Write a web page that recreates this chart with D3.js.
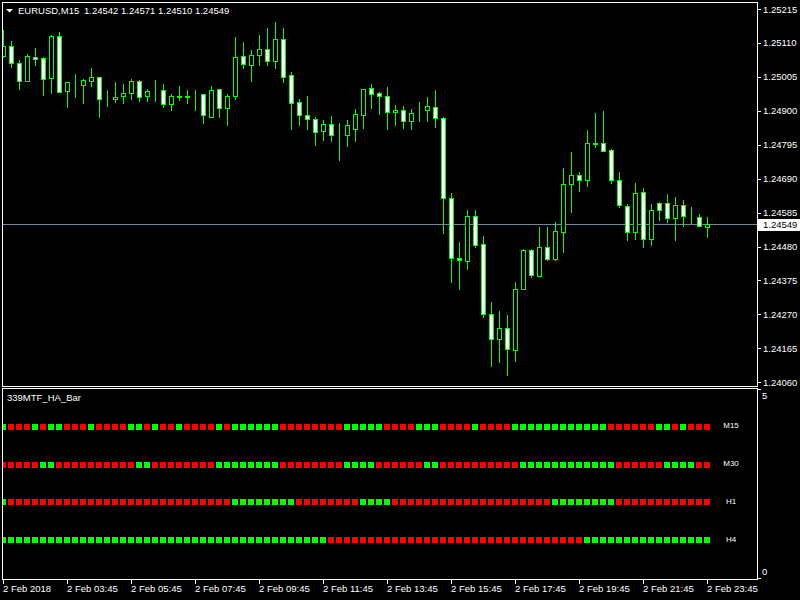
<!DOCTYPE html>
<html><head><meta charset="utf-8">
<script src="https://cdn.jsdelivr.net/npm/d3@7"></script>
<style>
html,body{margin:0;padding:0;background:#000;}
svg{display:block;}
text{font-family:"Liberation Sans",Arial,sans-serif;}
</style></head><body>
<svg id="c" width="800" height="600"></svg>
<script>
const symbol = "EURUSD,M15";
const indicatorName = "339MTF_HA_Bar";
const timeLabels = ["2 Feb 2018","2 Feb 03:45","2 Feb 05:45","2 Feb 07:45","2 Feb 09:45","2 Feb 11:45","2 Feb 13:45","2 Feb 15:45","2 Feb 17:45","2 Feb 19:45","2 Feb 21:45","2 Feb 23:45"];
const timeLabelBars = [0,8,16,24,32,40,48,56,64,72,80,88];
const priceTicks = [1.25215,1.25110,1.25005,1.24900,1.24795,1.24690,1.24585,1.24480,1.24375,1.24270,1.24165,1.24060];

const open = [1.25070,1.25101,1.25049,1.24993,1.25066,1.25063,1.25002,1.25131,1.24962,1.24984,
1.24979,1.24993,1.25004,1.24937,1.24936,1.24945,1.24954,1.24991,1.24945,1.24961,
1.24963,1.24920,1.24945,1.24944,1.24949,1.24951,1.24882,1.24967,1.24908,1.24945,
1.25069,1.25041,1.25072,1.25090,1.25055,1.25121,1.25010,1.24927,1.24886,1.24876,
1.24837,1.24859,1.24826,1.24826,1.24845,1.24888,1.24970,1.24954,1.24945,1.24895,
1.24902,1.24868,1.24892,1.24902,1.24911,1.24877,1.24629,1.24444,1.24435,1.24574,
1.24487,1.24270,1.24193,1.24227,1.24159,1.24350,1.24468,1.24390,1.24478,1.24441,
1.24524,1.24673,1.24700,1.24685,1.24799,1.24800,1.24778,1.24685,1.24605,1.24524,
1.24648,1.24502,1.24614,1.24614,1.24567,1.24608,1.24574,1.24571,1.24542];
const high = [1.25150,1.25117,1.25057,1.25076,1.25094,1.25067,1.25135,1.25144,1.24989,1.25014,
1.24998,1.25033,1.25005,1.24964,1.24989,1.24983,1.24998,1.24995,1.24967,1.24995,
1.24983,1.24951,1.24976,1.24964,1.24964,1.24951,1.24977,1.24967,1.24951,1.25128,
1.25113,1.25087,1.25135,1.25156,1.25175,1.25156,1.25020,1.24937,1.24946,1.24882,
1.24872,1.24884,1.24863,1.24872,1.24907,1.24967,1.24983,1.24957,1.24973,1.24917,
1.24914,1.24905,1.24926,1.24942,1.24963,1.24880,1.24645,1.24494,1.24593,1.24593,
1.24513,1.24309,1.24281,1.24268,1.24370,1.24473,1.24473,1.24541,1.24540,1.24556,
1.24723,1.24773,1.24711,1.24841,1.24892,1.24899,1.24781,1.24711,1.24611,1.24676,
1.24660,1.24611,1.24617,1.24642,1.24632,1.24623,1.24601,1.24580,1.24571];
const low = [1.25067,1.25037,1.24968,1.24993,1.25042,1.24949,1.24956,1.24959,1.24913,1.24944,
1.24925,1.24977,1.24882,1.24915,1.24928,1.24923,1.24937,1.24931,1.24931,1.24929,
1.24913,1.24902,1.24933,1.24923,1.24902,1.24861,1.24882,1.24880,1.24857,1.24936,
1.25032,1.24991,1.25041,1.25041,1.25033,1.24990,1.24845,1.24857,1.24845,1.24794,
1.24810,1.24807,1.24748,1.24791,1.24807,1.24847,1.24910,1.24891,1.24845,1.24857,
1.24848,1.24845,1.24869,1.24869,1.24851,1.24521,1.24371,1.24350,1.24411,1.24478,
1.24263,1.24110,1.24124,1.24084,1.24127,1.24350,1.24387,1.24390,1.24438,1.24438,
1.24463,1.24588,1.24651,1.24666,1.24789,1.24775,1.24676,1.24601,1.24499,1.24502,
1.24478,1.24484,1.24561,1.24555,1.24499,1.24543,1.24552,1.24543,1.24510];
const close = [1.25101,1.25049,1.24993,1.25070,1.25059,1.24999,1.25131,1.24959,1.24989,1.24983,
1.24995,1.25004,1.24936,1.24936,1.24942,1.24954,1.24991,1.24944,1.24960,1.24962,
1.24920,1.24945,1.24944,1.24945,1.24950,1.24886,1.24964,1.24908,1.24945,1.25066,
1.25044,1.25072,1.25090,1.25055,1.25121,1.25006,1.24925,1.24886,1.24874,1.24835,
1.24859,1.24826,1.24825,1.24855,1.24890,1.24967,1.24951,1.24945,1.24895,1.24902,
1.24868,1.24892,1.24893,1.24914,1.24877,1.24629,1.24444,1.24437,1.24576,1.24484,
1.24271,1.24193,1.24227,1.24162,1.24348,1.24469,1.24393,1.24478,1.24441,1.24527,
1.24673,1.24700,1.24685,1.24800,1.24797,1.24775,1.24685,1.24608,1.24524,1.24645,
1.24502,1.24592,1.24592,1.24567,1.24608,1.24574,1.24573,1.24543,1.24549];

// Heiken Ashi direction per bar (1 = up/green, 0 = down/red)
const haM15 = [1,0,0,0,1,0,1,1,0,0, 0,1,0,0,0,0,1,1,0,1, 0,0,1,0,0,0,0,1,0,1, 1,1,1,1,1,0,0,0,0,0, 0,0,0,1,1,1,1,1,0,0, 0,0,1,1,1,0,0,0,0,1, 0,0,0,0,1,1,1,1,1,1, 1,1,1,1,1,1,0,0,0,0, 0,0,1,1,0,1,0,0,0];
const haM30 = [0,0,0,0,0,1,1,0,0,0, 0,0,0,0,0,0,0,1,1,0, 0,0,0,0,0,0,0,1,1,1, 1,1,1,1,1,0,0,0,0,0, 0,0,0,1,1,1,1,0,0,0, 0,0,0,1,1,0,0,0,0,0, 0,0,0,0,0,1,1,1,1,1, 1,1,1,1,1,1,1,0,0,0, 0,0,0,1,1,1,1,0,0];
const haH1  = [1,0,0,0,0,0,0,0,0,0, 0,0,0,0,0,0,0,0,0,0, 0,0,0,0,0,0,0,0,0,1, 1,1,1,1,1,1,1,0,0,0, 0,0,0,0,0,1,1,1,1,0, 0,0,0,0,0,0,0,0,0,0, 0,0,0,0,0,0,0,0,0,1, 1,1,1,1,1,1,1,0,0,0, 0,0,0,0,0,0,0,0,0];
const haH4  = [1,1,1,1,1,1,1,1,1,1, 1,1,1,1,1,1,1,1,1,1, 1,1,1,1,1,1,1,1,1,1, 1,1,1,1,1,1,1,1,1,1, 1,0,0,0,0,0,0,0,0,0, 0,0,0,0,0,0,0,0,0,0, 0,0,0,0,0,0,0,0,0,0, 0,0,0,1,1,1,1,1,1,1, 1,1,1,1,1,1,1,1,1];
const haRowNames = ["M15","M30","H1","H4"];
const haRowLevels = [4,3,2,1];
const haRowValues = [haM15, haM30, haH1, haH4];
const indTicks = [5, 0];

const bars = open.map((o,i)=>({i, o, h:high[i], l:low[i], c:close[i]}));
const last = bars[bars.length-1];

const svg = d3.select("#c");
svg.append("rect").attr("width",800).attr("height",600).attr("fill","#000");

const x = d3.scaleLinear().domain([0, 88]).range([3.5, 707.5]);
const y = d3.scaleLinear().domain([1.24060, 1.25215]).range([382.3, 9]);
const yInd = d3.scaleLinear().domain([0, 5]).range([578, 389]);

const defs = svg.append("defs");
defs.append("clipPath").attr("id","mainClip").append("rect").attr("x",3).attr("y",3).attr("width",754).attr("height",383);
defs.append("clipPath").attr("id","indClip").append("rect").attr("x",3).attr("y",389).attr("width",754).attr("height",190);

// main panel
const main = svg.append("g").attr("clip-path","url(#mainClip)").attr("shape-rendering","crispEdges");

// current price line
main.append("line").attr("x1",2).attr("x2",757).attr("y1",Math.round(y(last.c))+0.5).attr("y2",Math.round(y(last.c))+0.5)
  .attr("stroke","#778899").attr("stroke-width",1);

main.selectAll("line.wick").data(bars).enter().append("line").attr("class","wick")
  .attr("x1",d=>x(d.i)).attr("x2",d=>x(d.i))
  .attr("y1",d=>Math.round(y(d.h))).attr("y2",d=>Math.round(y(d.l))+1)
  .attr("stroke","#00ff00").attr("stroke-width",1);

main.selectAll("rect.body").data(bars).enter().append("rect").attr("class","body")
  .attr("x",d=>x(d.i)-2)
  .attr("y",d=>Math.round(y(Math.max(d.o,d.c)))+0.5)
  .attr("width",4)
  .attr("height",d=>Math.max(0, Math.round(y(Math.min(d.o,d.c))) - Math.round(y(Math.max(d.o,d.c)))))
  .attr("fill",d=>d.c < d.o ? "#ffffff" : "#000000")
  .attr("stroke","#00ff00").attr("stroke-width",1);

// indicator squares
const ind = svg.append("g").attr("clip-path","url(#indClip)").attr("shape-rendering","crispEdges");
haRowValues.forEach((vals, r) => {
  ind.selectAll("rect.r"+r).data(vals).enter().append("rect").attr("class","r"+r)
    .attr("x",(d,i)=>x(i)-3.5)
    .attr("y",Math.round(yInd(haRowLevels[r])-3))
    .attr("width",6).attr("height",6)
    .attr("fill",d=>d ? "#00ff00" : "#ff0000");
});
haRowNames.forEach((n, r) => {
  svg.append("text").attr("x",731).attr("y",yInd(haRowLevels[r])+1.5)
    .attr("text-anchor","middle").attr("font-size","8px").attr("fill","#ffffff").text(n);
});

// frames
const frames = svg.append("g").attr("shape-rendering","crispEdges").attr("fill","none").attr("stroke","#ffffff");
frames.append("rect").attr("x",2.5).attr("y",2.5).attr("width",755).attr("height",384);
frames.append("rect").attr("x",2.5).attr("y",388.5).attr("width",755).attr("height",191);

// price axis
const pAxis = svg.append("g").attr("shape-rendering","crispEdges");
pAxis.selectAll("line").data(priceTicks).enter().append("line")
  .attr("x1",758).attr("x2",761).attr("y1",d=>Math.round(y(d))+0.5).attr("y2",d=>Math.round(y(d))+0.5)
  .attr("stroke","#fff");
svg.selectAll("text.pt").data(priceTicks).enter().append("text").attr("class","pt")
  .attr("x",763).attr("y",d=>y(d)+3.5).attr("font-size","9.5px").attr("fill","#fff")
  .text(d=>d.toFixed(5));

// current price box
svg.append("rect").attr("x",758).attr("y",Math.round(y(last.c))-5).attr("width",42).attr("height",12).attr("fill","#fff");
svg.append("text").attr("x",763).attr("y",y(last.c)+3.5).attr("font-size","9.5px").attr("fill","#000").text(last.c.toFixed(5));

// indicator axis
svg.selectAll("line.it").data(indTicks).enter().append("line").attr("class","it")
  .attr("shape-rendering","crispEdges")
  .attr("x1",758).attr("x2",761).attr("y1",d=>Math.round(yInd(d))+0.5).attr("y2",d=>Math.round(yInd(d))+0.5).attr("stroke","#fff");
svg.selectAll("text.it").data(indTicks).enter().append("text").attr("class","it")
  .attr("x",762).attr("y",d=> d>0 ? yInd(d)+10 : yInd(d)-3).attr("font-size","9.5px").attr("fill","#fff").text(d=>d);

// time axis
svg.selectAll("line.tt").data(timeLabelBars).enter().append("line").attr("class","tt")
  .attr("shape-rendering","crispEdges")
  .attr("x1",d=>x(d)).attr("x2",d=>x(d)).attr("y1",580).attr("y2",584).attr("stroke","#fff");
svg.selectAll("text.tt").data(timeLabelBars).enter().append("text").attr("class","tt")
  .attr("x",d=>x(d)-0.5).attr("y",592).attr("font-size","9.5px").attr("fill","#fff")
  .text((d,i)=>timeLabels[i]);

// header
svg.append("path").attr("d","M6,9 L13,9 L9.5,12.5 Z").attr("fill","#fff");
svg.append("text").attr("x",18).attr("y",14).attr("font-size","9.5px").attr("fill","#fff").text(symbol);
svg.append("text").attr("x",84).attr("y",14).attr("font-size","9.5px").attr("fill","#fff")
  .text([last.o,last.h,last.l,last.c].map(v=>v.toFixed(5)).join(" "));
svg.append("text").attr("x",7).attr("y",401).attr("font-size","9.5px").attr("fill","#fff").text(indicatorName);
</script>
</body></html>
